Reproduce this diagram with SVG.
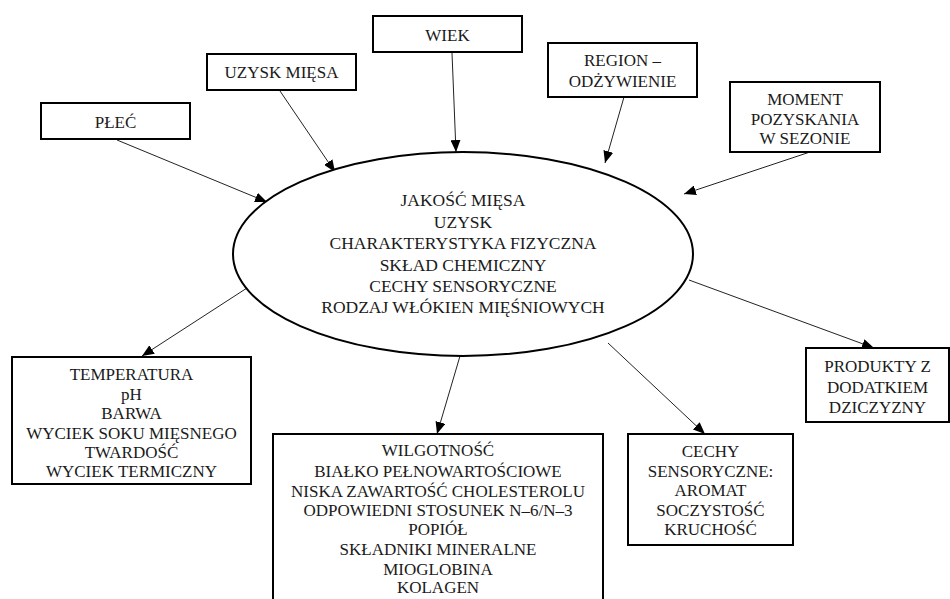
<svg xmlns="http://www.w3.org/2000/svg" width="950" height="599" viewBox="0 0 950 599">
  <style>
    .box { fill: #ffffff; stroke: #000000; stroke-width: 2; }
    .hub { fill: #ffffff; stroke: #000000; stroke-width: 2; }
    .lbl { font-family: "Liberation Serif", "Times New Roman", serif; font-size: 17px; fill: #1a1a1a; text-anchor: middle; }
    .hubtxt { font-family: "Liberation Serif", "Times New Roman", serif; font-size: 17.5px; fill: #1a1a1a; text-anchor: middle; }
    .edge { stroke: #222222; stroke-width: 1; fill: none; marker-end: url(#arrow); }
  </style>
  <defs>
    <marker id="arrow" markerUnits="userSpaceOnUse" markerWidth="12" markerHeight="10" viewBox="0 0 12 10" refX="12" refY="5" orient="auto">
      <path d="M0,0 L12,5 L0,10 Z" fill="#000000"/>
    </marker>
  </defs>

  <rect width="950" height="599" fill="#ffffff"/>

  <!-- connectors -->
  <g id="connectors">
    <line class="edge" x1="117" y1="140" x2="267" y2="202"/>
    <line class="edge" x1="280" y1="91" x2="335" y2="172"/>
    <line class="edge" x1="452" y1="53" x2="456" y2="152"/>
    <line class="edge" x1="624" y1="97" x2="605" y2="163"/>
    <line class="edge" x1="810" y1="152" x2="684" y2="194"/>
    <line class="edge" x1="247" y1="288" x2="142" y2="356"/>
    <line class="edge" x1="460" y1="356" x2="437" y2="434"/>
    <line class="edge" x1="608" y1="343" x2="705" y2="434"/>
    <line class="edge" x1="689" y1="280" x2="874" y2="348"/>
  </g>

  <!-- central node -->
  <g id="jakosc-miesa">
    <ellipse class="hub" cx="463" cy="254" rx="230" ry="102"/>
    <text class="hubtxt" x="463" y="206">JAKOŚĆ MIĘSA</text>
    <text class="hubtxt" x="463" y="227.5">UZYSK</text>
    <text class="hubtxt" x="463" y="249">CHARAKTERYSTYKA FIZYCZNA</text>
    <text class="hubtxt" x="463" y="270.5">SKŁAD CHEMICZNY</text>
    <text class="hubtxt" x="463" y="292">CECHY SENSORYCZNE</text>
    <text class="hubtxt" x="463" y="313">RODZAJ WŁÓKIEN MIĘŚNIOWYCH</text>
  </g>

  <!-- factors -->
  <g id="plec">
    <rect class="box" x="41" y="103" width="149" height="36"/>
    <text class="lbl" x="115.5" y="128">PŁEĆ</text>
  </g>
  <g id="uzysk-miesa">
    <rect class="box" x="207" y="54" width="149" height="36"/>
    <text class="lbl" x="281.5" y="78">UZYSK MIĘSA</text>
  </g>
  <g id="wiek">
    <rect class="box" x="373" y="16" width="149" height="36"/>
    <text class="lbl" x="447.5" y="41">WIEK</text>
  </g>
  <g id="region">
    <rect class="box" x="548" y="43" width="149" height="54"/>
    <text class="lbl" x="622.5" y="66">REGION –</text>
    <text class="lbl" x="622.5" y="87">ODŻYWIENIE</text>
  </g>
  <g id="moment">
    <rect class="box" x="730" y="82" width="150" height="70"/>
    <text class="lbl" x="805" y="105">MOMENT</text>
    <text class="lbl" x="805" y="124.5">POZYSKANIA</text>
    <text class="lbl" x="805" y="144">W SEZONIE</text>
  </g>

  <!-- outcomes -->
  <g id="fizyczne">
    <rect class="box" x="12" y="357" width="239" height="127"/>
    <text class="lbl" x="131.5" y="380">TEMPERATURA</text>
    <text class="lbl" x="131.5" y="399.5">pH</text>
    <text class="lbl" x="131.5" y="419">BARWA</text>
    <text class="lbl" x="131.5" y="438.5">WYCIEK SOKU MIĘSNEGO</text>
    <text class="lbl" x="131.5" y="458">TWARDOŚĆ</text>
    <text class="lbl" x="131.5" y="477">WYCIEK TERMICZNY</text>
  </g>
  <g id="chemiczne">
    <rect class="box" x="273" y="434" width="330" height="180"/>
    <text class="lbl" x="438" y="456">WILGOTNOŚĆ</text>
    <text class="lbl" x="438" y="476.5">BIAŁKO PEŁNOWARTOŚCIOWE</text>
    <text class="lbl" x="438" y="496.5">NISKA ZAWARTOŚĆ CHOLESTEROLU</text>
    <text class="lbl" x="438" y="515.5">ODPOWIEDNI STOSUNEK N–6/N–3</text>
    <text class="lbl" x="438" y="534.5">POPIÓŁ</text>
    <text class="lbl" x="438" y="554.5">SKŁADNIKI MINERALNE</text>
    <text class="lbl" x="438" y="574.5">MIOGLOBINA</text>
    <text class="lbl" x="438" y="593">KOLAGEN</text>
  </g>
  <g id="sensoryczne">
    <rect class="box" x="628" y="434" width="165" height="111"/>
    <text class="lbl" x="710.5" y="457">CECHY</text>
    <text class="lbl" x="710.5" y="477">SENSORYCZNE:</text>
    <text class="lbl" x="710.5" y="496">AROMAT</text>
    <text class="lbl" x="710.5" y="515.5">SOCZYSTOŚĆ</text>
    <text class="lbl" x="710.5" y="535">KRUCHOŚĆ</text>
  </g>
  <g id="produkty">
    <rect class="box" x="806" y="348" width="143" height="74"/>
    <text class="lbl" x="877.5" y="372">PRODUKTY Z</text>
    <text class="lbl" x="877.5" y="392.5">DODATKIEM</text>
    <text class="lbl" x="877.5" y="413">DZICZYZNY</text>
  </g>
</svg>
